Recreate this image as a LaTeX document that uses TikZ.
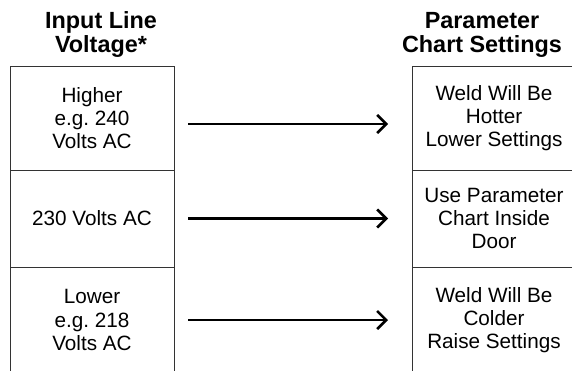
\documentclass[tikz,border=0pt]{standalone}
\usepackage{fontspec}
\setmainfont{Liberation Sans}
\usetikzlibrary{arrows.meta,positioning}
\frenchspacing

\begin{document}
\begin{tikzpicture}[
  x=1pt, y=-1pt,
  cell/.style={draw=black!80, line width=0.9pt, rectangle, minimum width=164pt, inner sep=0pt, outer sep=0pt, align=center, font=\fontsize{20.7}{23.3}\selectfont},
  head/.style={align=center, inner sep=0pt, font=\fontsize{23.4}{24}\selectfont\bfseries},
  conn/.style={-{Straight Barb[length=9pt,width=18pt]}, line width=2.6pt, shorten <=14pt, shorten >=24pt}
]
\useasboundingbox (0,0) rectangle (572,370);
\clip (0,0) rectangle (572,370);

% column titles
\node[head] (vin) at (101,34.5) {Input Line\\Voltage*};
\node[head] (chart) at (482,34.5) {Parameter\\Chart Settings};

% line voltage
\node[cell, minimum height=104pt] (high) at (92,118) {Higher\\e.g. 240\\Volts AC};
\node[cell, minimum height=97pt, below=0pt of high] (nominal) {230 Volts AC};
\node[cell, minimum height=106pt, below=0pt of nominal] (low) {Lower\\e.g. 218\\Volts AC};

% chart settings
\node[cell, minimum height=104pt] (hotter) at (494,118) {Weld Will Be\\Hotter\\Lower Settings};
\node[cell, minimum height=97pt, below=0pt of hotter] (inside) {Use Parameter\\Chart Inside\\Door};
\node[cell, minimum height=106pt, below=0pt of inside] (colder) {Weld Will Be\\Colder\\Raise Settings};

\draw[conn] ([yshift=-6pt]high.east) -- ([yshift=-6pt]hotter.west);
\draw[conn] (nominal) -- (inside);
\draw[conn] (low) -- (colder);
\end{tikzpicture}
\end{document}
